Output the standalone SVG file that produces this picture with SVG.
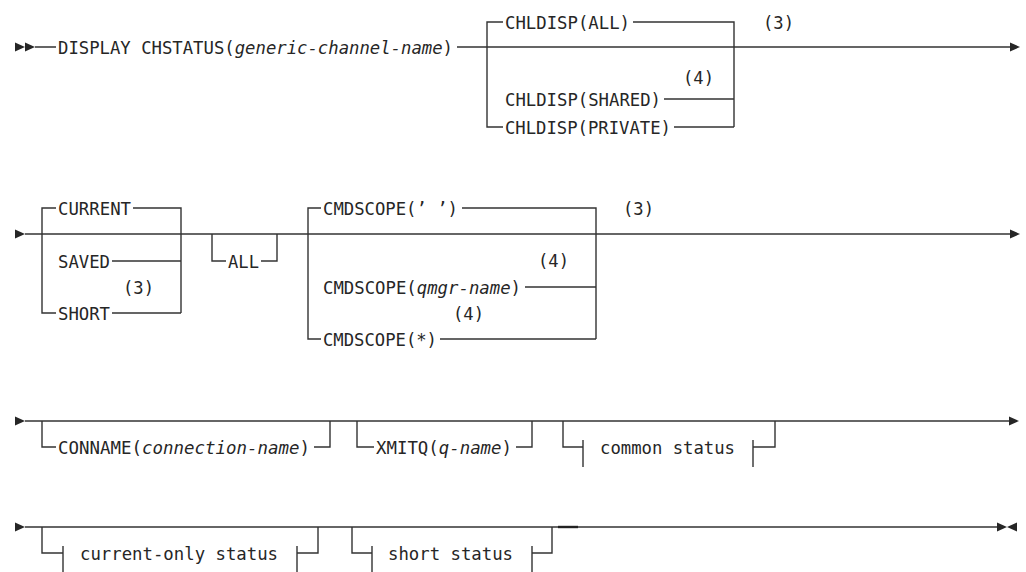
<svg xmlns="http://www.w3.org/2000/svg" width="1026" height="572" viewBox="0 0 1026 572">
<style>
text{font-family:"DejaVu Sans Mono","Liberation Mono",monospace;font-size:18.5px;fill:#262626}
.i{font-style:italic}
.l{fill:none;stroke:#333;stroke-width:1.4}
.a{fill:#262626}
</style>
<rect width="1026" height="572" fill="#fff"/>
<g id="connectors">
<!-- row 1 -->
<polygon class="a" points="15,42.5 25,47 15,51.5"/>
<polygon class="a" points="25,42.5 35,47 25,51.5"/>
<path class="l" d="M35,47H56M457,47H1010"/>
<polygon class="a" points="1010,42.5 1020,47 1010,51.5"/>
<path class="l" d="M503,22H487V127H503M633,22H734V127M664,99H734M674,127H734"/>
<!-- row 2 -->
<polygon class="a" points="15,229.5 25,234 15,238.5"/>
<path class="l" d="M25,234H1010"/>
<polygon class="a" points="1010,229.5 1020,234 1010,238.5"/>
<path class="l" d="M56,208H42V313H56M133,208H181V313M112,261H181M112,313H181"/>
<path class="l" d="M212,234V261H226M261,261H277V234"/>
<path class="l" d="M321,208H308V339H321M462,208H596V339M525,287H596M440,339H596"/>
<!-- row 3 -->
<polygon class="a" points="15,416.5 25,421 15,425.5"/>
<path class="l" d="M25,421H1010"/>
<polygon class="a" points="1009,416.5 1019,421 1009,425.5"/>
<path class="l" d="M42,421V447H56M314,447H330V421"/>
<path class="l" d="M357,421V447H374M516,447H532V421"/>
<path class="l" d="M563,421V447H583M583,440V467M753,440V467M753,447H775V421"/>
<!-- row 4 -->
<polygon class="a" points="15,522.5 25,527 15,531.5"/>
<path class="l" d="M25,527H997"/>
<path d="M558,527H578" stroke="#222" stroke-width="2.4"/>
<polygon class="a" points="997,522.5 1007,527 997,531.5"/>
<polygon class="a" points="1017,522.5 1007,527 1017,531.5"/>
<path class="l" d="M42,527V553H63M63,546V573M297,546V573M297,553H318V527"/>
<path class="l" d="M352,527V553H372M372,546V573M532,546V573M532,553H552V527"/>
</g>
<g id="display"><text x="58" y="54" textLength="395" lengthAdjust="spacingAndGlyphs">DISPLAY CHSTATUS(<tspan class="i">generic-channel-name</tspan>)</text></g>
<g id="chldisp-all"><text x="505" y="29" textLength="125" lengthAdjust="spacingAndGlyphs">CHLDISP(ALL)</text></g>
<g id="note3a"><text x="763" y="29" textLength="31" lengthAdjust="spacingAndGlyphs">(3)</text></g>
<g id="note4a"><text x="683" y="84" textLength="31" lengthAdjust="spacingAndGlyphs">(4)</text></g>
<g id="chldisp-shared"><text x="505" y="106" textLength="156" lengthAdjust="spacingAndGlyphs">CHLDISP(SHARED)</text></g>
<g id="chldisp-private"><text x="505" y="134" textLength="166" lengthAdjust="spacingAndGlyphs">CHLDISP(PRIVATE)</text></g>
<g id="current"><text x="58" y="215" textLength="73" lengthAdjust="spacingAndGlyphs">CURRENT</text></g>
<g id="saved"><text x="58" y="268" textLength="52" lengthAdjust="spacingAndGlyphs">SAVED</text></g>
<g id="note3b"><text x="123" y="294" textLength="31" lengthAdjust="spacingAndGlyphs">(3)</text></g>
<g id="short"><text x="58" y="320" textLength="52" lengthAdjust="spacingAndGlyphs">SHORT</text></g>
<g id="all"><text x="228" y="268" textLength="31" lengthAdjust="spacingAndGlyphs">ALL</text></g>
<g id="cmdscope-blank"><text x="323" y="215" textLength="135" lengthAdjust="spacingAndGlyphs">CMDSCOPE(’ ’)</text></g>
<g id="note3c"><text x="623" y="215" textLength="31" lengthAdjust="spacingAndGlyphs">(3)</text></g>
<g id="note4b"><text x="538" y="267" textLength="31" lengthAdjust="spacingAndGlyphs">(4)</text></g>
<g id="cmdscope-qmgr"><text x="323" y="294" textLength="198" lengthAdjust="spacingAndGlyphs">CMDSCOPE(<tspan class="i">qmgr-name</tspan>)</text></g>
<g id="note4c"><text x="453" y="320" textLength="31" lengthAdjust="spacingAndGlyphs">(4)</text></g>
<g id="cmdscope-star"><text x="323" y="346" textLength="114" lengthAdjust="spacingAndGlyphs">CMDSCOPE(*)</text></g>
<g id="conname"><text x="58" y="454" textLength="252" lengthAdjust="spacingAndGlyphs">CONNAME(<tspan class="i">connection-name</tspan>)</text></g>
<g id="xmitq"><text x="376" y="454" textLength="136" lengthAdjust="spacingAndGlyphs">XMITQ(<tspan class="i">q-name</tspan>)</text></g>
<g id="common-status"><text x="600" y="454" textLength="135" lengthAdjust="spacingAndGlyphs">common status</text></g>
<g id="current-only-status"><text x="80" y="560" textLength="198" lengthAdjust="spacingAndGlyphs">current-only status</text></g>
<g id="short-status"><text x="388" y="560" textLength="125" lengthAdjust="spacingAndGlyphs">short status</text></g>
</svg>
